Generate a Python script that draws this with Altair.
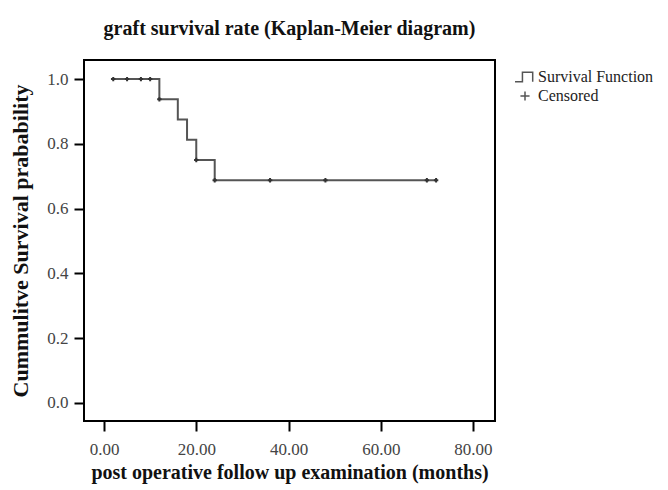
import altair as alt
import pandas as pd

# Kaplan-Meier step curve (time in months, cumulative survival)
line_times = [1.5, 12, 16, 18, 20, 24, 72]
line_surv = [1.0, 0.9375, 0.875, 0.8125, 0.75, 0.6875, 0.6875]

# Censored observations
cens_times = [2, 5, 8, 10, 12, 20, 24, 36, 48, 70, 72]
cens_surv = [1.0, 1.0, 1.0, 1.0, 0.9375, 0.75, 0.6875, 0.6875, 0.6875, 0.6875, 0.6875]

legend_labels = ["Survival Function", "Censored"]
x_ticks = [0, 20, 40, 60, 80]
y_ticks = [0.0, 0.2, 0.4, 0.6, 0.8, 1.0]

line_df = pd.DataFrame({"t": line_times, "s": line_surv})
cens_df = pd.DataFrame({"t": cens_times, "s": cens_surv, "kind": "Censored"})

SERIF = "Liberation Serif"
GRAY = "#555555"

x_enc = alt.X("t:Q",
              scale=alt.Scale(domain=[-4.34, 84.77], nice=False, zero=False),
              axis=alt.Axis(values=x_ticks, format=".2f",
                            title="post operative follow up examination (months)"))
y_enc = alt.Y("s:Q",
              scale=alt.Scale(domain=[-0.056, 1.059], nice=False, zero=False),
              axis=alt.Axis(values=y_ticks, format=".1f",
                            title="Cummulitve Survival prabability",
                            titleFontSize=22))

line = alt.Chart(line_df).mark_line(
    interpolate="step-after", color=GRAY, strokeWidth=2
).encode(x=x_enc, y=y_enc)

step_icon = "M -1.75 0.85 L -0.45 0.85 L -0.45 -0.85 L 1.35 -0.85 L 1.35 0.85"
plus_icon = "M -0.8 0 L 0.8 0 M 0 -0.8 L 0 0.8"

points = alt.Chart(cens_df).mark_point(
    filled=False, color="#333333", strokeWidth=2, size=30, opacity=1
).encode(
    x="t:Q",
    y="s:Q",
    shape=alt.Shape(
        "kind:N",
        scale=alt.Scale(domain=legend_labels, range=[step_icon, plus_icon]),
        legend=alt.Legend(
            title=None, orient="none", legendX=433, legendY=9, padding=0,
            labelFont=SERIF, labelFontSize=16, labelColor="#222222",
            symbolSize=130, symbolStrokeColor=GRAY, symbolStrokeWidth=1.5,
            symbolFillColor="transparent", rowPadding=3, labelOffset=5,
        ),
    ),
)

chart = (
    alt.layer(line, points)
    .properties(
        width=411, height=361,
        autosize=alt.AutoSizeParams(type="none"),
        padding={"left": 76, "top": 52, "right": 165, "bottom": 68},
        background="white",
        title=alt.Title("graft survival rate (Kaplan-Meier diagram)",
                        font=SERIF, fontSize=20, fontWeight="bold",
                        anchor="middle", offset=21, color="#111111"),
    )
    .configure_view(stroke="black", strokeWidth=2)
    .configure_axis(
        domain=False, grid=False,
        ticks=True, tickColor="black", tickWidth=2, tickSize=10,
        labelFont=SERIF, labelFontSize=17, labelColor="#444444",
        titleFont=SERIF, titleFontSize=20, titleFontWeight="bold", titleColor="#111111",
    )
    .configure_axisX(titlePadding=5, labelPadding=10)
    .configure_axisY(titlePadding=14, labelPadding=6)
)

chart.save("out.html", embed_options={"renderer": "svg", "actions": False})
